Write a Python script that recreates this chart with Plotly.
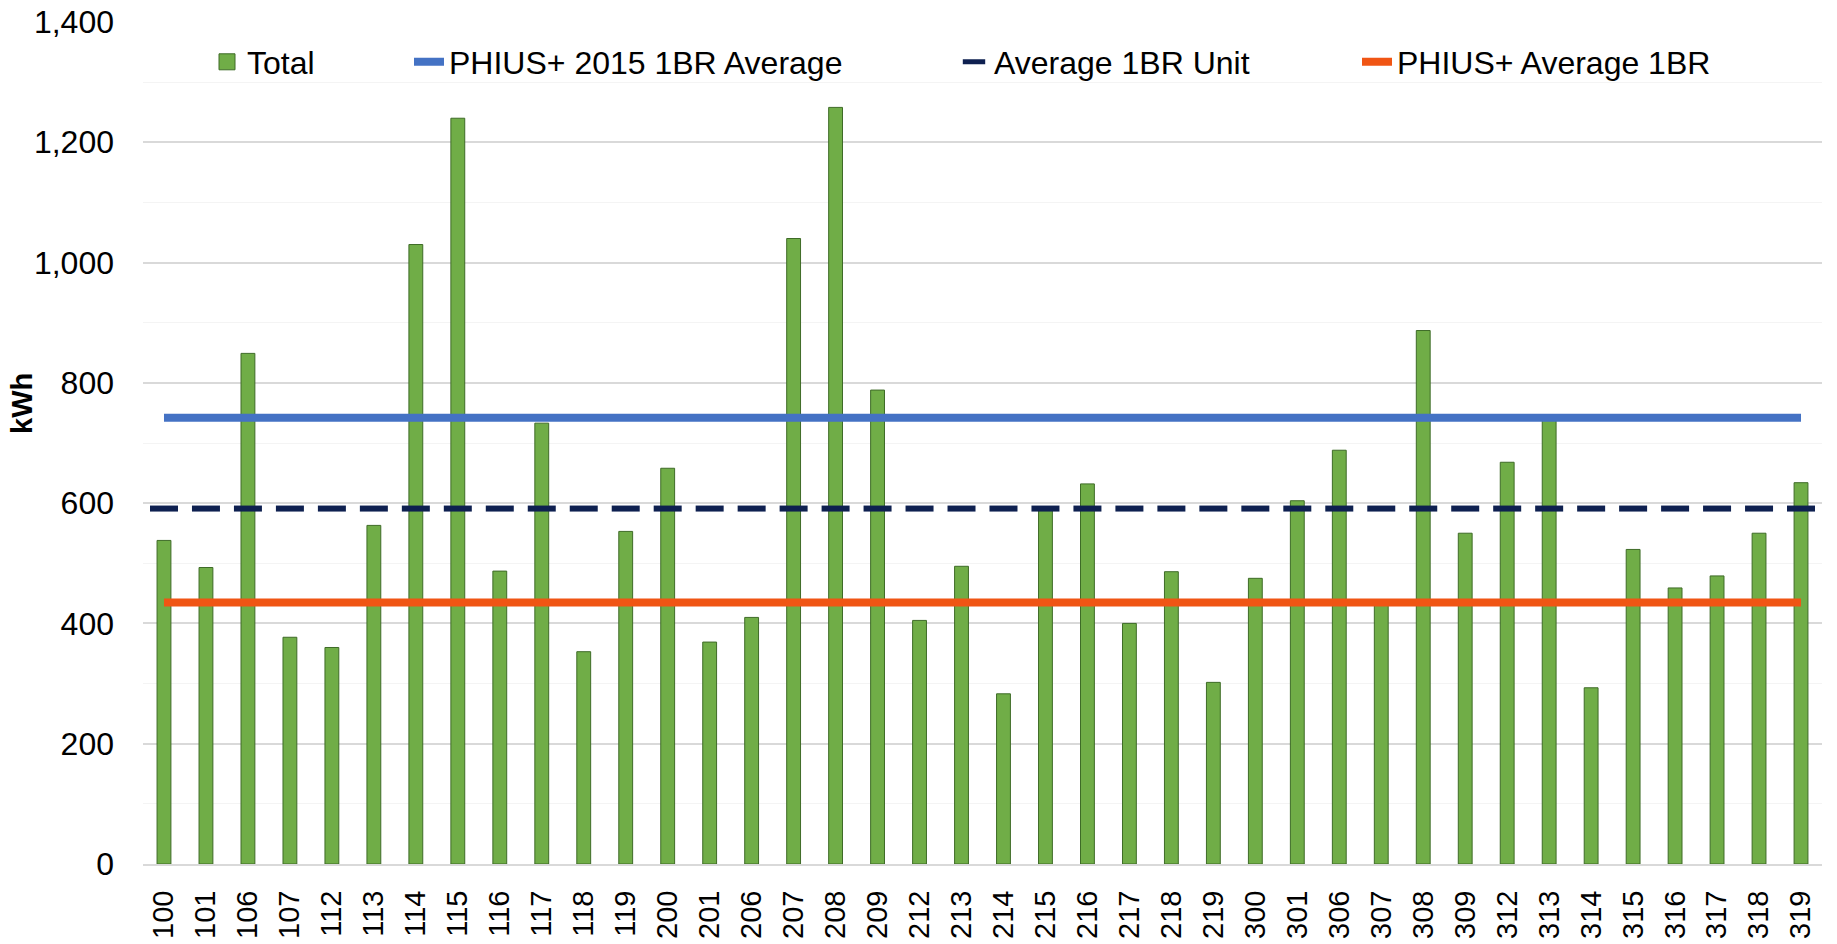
# kWh per 1BR unit vs PHIUS+ targets
import plotly.graph_objects as go

# %% data
units = ["100", "101", "106", "107", "112", "113", "114", "115", "116", "117",
         "118", "119", "200", "201", "206", "207", "208", "209", "212", "213",
         "214", "215", "216", "217", "218", "219", "300", "301", "306", "307",
         "308", "309", "312", "313", "314", "315", "316", "317", "318", "319"]

total_kwh = [538, 493, 849, 377, 360, 563, 1030, 1240, 487, 733,
             353, 553, 658, 369, 410, 1040, 1258, 788, 405, 495,
             283, 590, 632, 400, 486, 302, 475, 604, 688, 435,
             887, 550, 668, 740, 293, 523, 459, 479, 550, 634]

phius_2015_avg = [742] * len(units)
avg_1br_unit = [591] * len(units)
phius_avg_1br = [435] * len(units)

y_ticks = [0, 200, 400, 600, 800, 1000, 1200, 1400]

# %% style
FIG_WIDTH = 1837
FIG_HEIGHT = 944
FONT = "Liberation Sans, Arial, sans-serif"
FONT_SIZE = 32

GREEN = "#70AD47"
BLUE = "#4472C4"
NAVY = "#0E2050"
ORANGE = "#F05514"
GRID = "#D9D9D9"

# %% figure
fig = go.Figure()

fig.add_trace(
    go.Bar(
        x=units,
        y=total_kwh,
        name="Total",
        marker=dict(color=GREEN, line=dict(color="#3E6B27", width=1)),
        showlegend=False,
    )
)

# legend-only entry so the square swatch can be bigger than the bar default
fig.add_trace(
    go.Scatter(
        x=[None],
        y=[None],
        name="Total",
        mode="markers",
        marker=dict(symbol="square", size=20, color=GREEN,
                    line=dict(color="#3E6B27", width=1)),
        legend="legend",
    )
)

fig.add_trace(
    go.Scatter(
        x=units,
        y=phius_2015_avg,
        name="PHIUS+ 2015 1BR Average",
        mode="lines",
        line=dict(color=BLUE, width=8),
        legend="legend2",
    )
)

fig.add_trace(
    go.Scatter(
        x=units,
        y=avg_1br_unit,
        name="Average 1BR Unit",
        mode="markers",
        marker=dict(symbol="line-ew", size=20, line=dict(color=NAVY, width=6)),
        legend="legend3",
    )
)

fig.add_trace(
    go.Scatter(
        x=units,
        y=phius_avg_1br,
        name="PHIUS+ Average 1BR",
        mode="lines",
        line=dict(color=ORANGE, width=8),
        legend="legend4",
    )
)

# plot area spans pixels 143..1822 horizontally, 22..864 vertically
left, right, top, bottom = 143, 15, 22, 80
plot_w = FIG_WIDTH - left - right
plot_h = FIG_HEIGHT - top - bottom


def legend_at(px):
    return dict(
        x=(px - left) / plot_w,
        y=(FIG_HEIGHT - bottom - 62) / plot_h,
        xanchor="left",
        yanchor="middle",
        orientation="h",
        bgcolor="rgba(0,0,0,0)",
        font=dict(family=FONT, size=FONT_SIZE, color="#000000"),
    )


fig.update_layout(
    width=FIG_WIDTH,
    height=FIG_HEIGHT,
    margin=dict(l=left, r=right, t=top, b=bottom),
    plot_bgcolor="white",
    paper_bgcolor="white",
    font=dict(family=FONT, size=FONT_SIZE, color="#000000"),
    bargap=0.67,
    showlegend=True,
    legend=legend_at(207),
    legend2=legend_at(409),
    legend3=legend_at(954),
    legend4=legend_at(1357),
    xaxis=dict(
        type="category",
        range=[-0.5, len(units) - 0.5],
        tickangle=-90,
        showgrid=False,
        showline=True,
        linecolor=GRID,
        linewidth=2,
        automargin=False,
        ticklabelstandoff=13,
        tickfont=dict(family=FONT, size=29),
    ),
    yaxis=dict(
        range=[0, 1400],
        tickvals=y_ticks,
        tickformat=",",
        showgrid=True,
        gridcolor=GRID,
        gridwidth=1.5,
        zeroline=False,
        minor=dict(dtick=100, showgrid=True, gridcolor="#F4F4F4", gridwidth=1),
        automargin=False,
        ticklabelstandoff=28,
        tickfont=dict(family=FONT, size=FONT_SIZE),
    ),
)

# y axis title, placed where the original has it
fig.add_annotation(
    text="<b>kWh</b>",
    textangle=-90,
    xref="paper",
    yref="paper",
    x=(22 - left) / plot_w,
    y=(FIG_HEIGHT - bottom - 404) / plot_h,
    xanchor="center",
    yanchor="middle",
    showarrow=False,
    font=dict(family=FONT, size=29, color="#000000"),
)

# drop the default page margin so the figure sits at the window's corner
fig.write_html(
    "out.html",
    config={"displayModeBar": False},
    post_script="document.body.style.margin='0';",
)
